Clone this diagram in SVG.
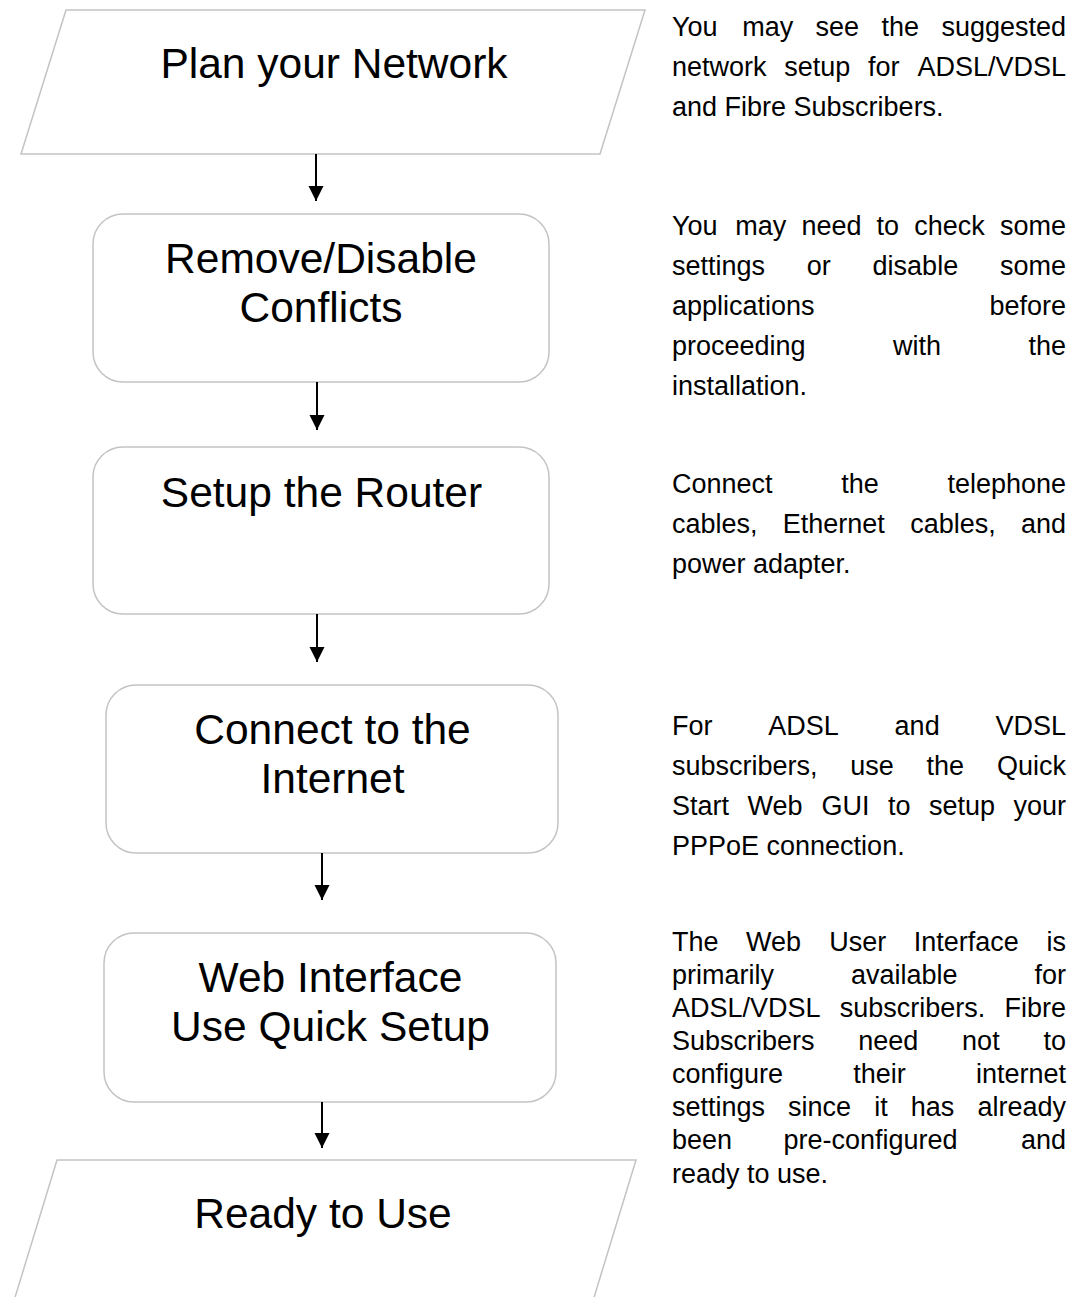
<svg xmlns="http://www.w3.org/2000/svg" width="1076" height="1297" viewBox="0 0 1076 1297">
<style>
.shape{fill:#ffffff;stroke:#c3c3c3;stroke-width:1.5}
.title{font-family:"Liberation Sans",Arial,sans-serif;font-size:42.5px;fill:#000;text-anchor:middle}
.desc{font-family:"Liberation Sans",Arial,sans-serif;font-size:27px;fill:#000}
.e{text-anchor:end}
.conn{stroke:#000;stroke-width:2;fill:none;marker-end:url(#arr)}
</style>
<defs>
<marker id="arr" markerWidth="16" markerHeight="16" refX="15" refY="7.5" orient="auto" markerUnits="userSpaceOnUse">
<path d="M0,0 L15,7.5 L0,15 Z" fill="#000"/>
</marker>
</defs>
<rect width="1076" height="1297" fill="#ffffff"/>
<g id="node-plan">
<polygon class="shape" points="66,10 645,10 600,154 21,154"/>
<text class="title" x="334" y="78">Plan your Network</text>
</g>
<g id="node-remove">
<rect class="shape" x="93" y="214" width="456" height="168" rx="30"/>
<text class="title" x="321" y="273">Remove/Disable</text>
<text class="title" x="321" y="322">Conflicts</text>
</g>
<g id="node-setup">
<rect class="shape" x="93" y="447" width="456" height="167" rx="30"/>
<text class="title" x="321.5" y="507">Setup the Router</text>
</g>
<g id="node-connect">
<rect class="shape" x="106" y="685" width="452" height="168" rx="30"/>
<text class="title" x="332.5" y="744">Connect to the</text>
<text class="title" x="332.5" y="793">Internet</text>
</g>
<g id="node-web">
<rect class="shape" x="104" y="933" width="452" height="169" rx="30"/>
<text class="title" x="330.5" y="992">Web Interface</text>
<text class="title" x="330.5" y="1041">Use Quick Setup</text>
</g>
<g id="node-ready">
<polygon class="shape" points="57,1160 636,1160 592,1304 13,1304"/>
<text class="title" x="323" y="1228">Ready to Use</text>
</g>
<g id="connectors">
<line class="conn" x1="316" y1="154" x2="316" y2="201"/>
<line class="conn" x1="317" y1="382" x2="317" y2="430"/>
<line class="conn" x1="317" y1="614" x2="317" y2="662"/>
<line class="conn" x1="322" y1="853" x2="322" y2="900"/>
<line class="conn" x1="322" y1="1102" x2="322" y2="1148"/>
</g>
<g id="notes">
<text class="desc" y="36"><tspan x="672">You</tspan><tspan x="742.3">may</tspan><tspan x="815.6">see</tspan><tspan x="881.4">the</tspan><tspan class="e" x="1066">suggested</tspan></text>
<text class="desc" y="76"><tspan x="672">network</tspan><tspan x="784.3">setup</tspan><tspan x="868.1">for</tspan><tspan class="e" x="1066">ADSL/VDSL</tspan></text>
<text class="desc" x="672" y="116">and Fibre Subscribers.</text>

<text class="desc" y="235"><tspan x="672">You</tspan><tspan x="735.2">may</tspan><tspan x="801.4">need</tspan><tspan x="876.6">to</tspan><tspan x="914.3">check</tspan><tspan class="e" x="1066">some</tspan></text>
<text class="desc" y="275"><tspan x="672">settings</tspan><tspan x="806.8">or</tspan><tspan x="872.6">disable</tspan><tspan class="e" x="1066">some</tspan></text>
<text class="desc" y="315"><tspan x="672">applications</tspan><tspan class="e" x="1066">before</tspan></text>
<text class="desc" y="355"><tspan x="672">proceeding</tspan><tspan x="893">with</tspan><tspan class="e" x="1066">the</tspan></text>
<text class="desc" x="672" y="395">installation.</text>

<text class="desc" y="493"><tspan x="672">Connect</tspan><tspan x="841.2">the</tspan><tspan class="e" x="1066">telephone</tspan></text>
<text class="desc" y="533"><tspan x="672">cables,</tspan><tspan x="782.8">Ethernet</tspan><tspan x="910.2">cables,</tspan><tspan class="e" x="1066">and</tspan></text>
<text class="desc" x="672" y="573">power adapter.</text>

<text class="desc" y="735"><tspan x="672">For</tspan><tspan x="768.3">ADSL</tspan><tspan x="894.6">and</tspan><tspan class="e" x="1066">VDSL</tspan></text>
<text class="desc" y="775"><tspan x="672">subscribers,</tspan><tspan x="850.3">use</tspan><tspan x="926.6">the</tspan><tspan class="e" x="1066">Quick</tspan></text>
<text class="desc" y="815"><tspan x="672">Start</tspan><tspan x="747.5">Web</tspan><tspan x="821.5">GUI</tspan><tspan x="888">to</tspan><tspan x="929">setup</tspan><tspan class="e" x="1066">your</tspan></text>
<text class="desc" x="672" y="855">PPPoE connection.</text>

<text class="desc" y="951"><tspan x="672">The</tspan><tspan x="746.1">Web</tspan><tspan x="829.2">User</tspan><tspan x="913.8">Interface</tspan><tspan class="e" x="1066">is</tspan></text>
<text class="desc" y="984"><tspan x="672">primarily</tspan><tspan x="851">available</tspan><tspan class="e" x="1066">for</tspan></text>
<text class="desc" y="1017"><tspan x="672">ADSL/VDSL</tspan><tspan x="839.8">subscribers.</tspan><tspan class="e" x="1066">Fibre</tspan></text>
<text class="desc" y="1050"><tspan x="672">Subscribers</tspan><tspan x="858.3">need</tspan><tspan x="962.1">not</tspan><tspan class="e" x="1066">to</tspan></text>
<text class="desc" y="1083"><tspan x="672">configure</tspan><tspan x="853.3">their</tspan><tspan class="e" x="1066">internet</tspan></text>
<text class="desc" y="1116"><tspan x="672">settings</tspan><tspan x="788.1">since</tspan><tspan x="874.2">it</tspan><tspan x="910.8">has</tspan><tspan class="e" x="1066">already</tspan></text>
<text class="desc" y="1149"><tspan x="672">been</tspan><tspan x="783.5">pre-configured</tspan><tspan class="e" x="1066">and</tspan></text>
<text class="desc" x="672" y="1183">ready to use.</text>
</g>
</svg>
